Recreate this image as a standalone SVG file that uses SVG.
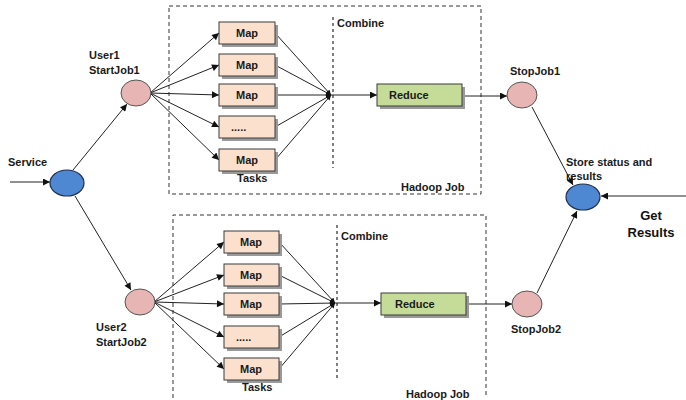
<svg xmlns="http://www.w3.org/2000/svg" width="686" height="400" viewBox="0 0 686 400">
<style>
.lbl{font-family:"Liberation Sans",Arial,sans-serif;font-size:11px;font-weight:bold;fill:#1a1a1a}
.big{font-family:"Liberation Sans",Arial,sans-serif;font-size:13px;font-weight:bold;fill:#111}
.map{fill:#fbe1cd;stroke:#3a3a3a;stroke-width:1}
.red{fill:#c4dc98;stroke:#3a3a3a;stroke-width:1}
.shadow{fill:#9a9a9a}
.pink{fill:#e8b5b5;stroke:#555;stroke-width:1}
.blue{fill:#4f88d2;stroke:#1f2f4f;stroke-width:1.2}
.box{fill:none;stroke:#333;stroke-width:1;stroke-dasharray:4,3}
.comb{fill:none;stroke:#555;stroke-width:1.5;stroke-dasharray:3,3}
.c{stroke:#222;stroke-width:1;fill:none}
.ca{stroke:#222;stroke-width:1;fill:none;marker-end:url(#ah)}
.cs{stroke:#222;stroke-width:1;fill:none;marker-end:url(#as)}
</style>
<defs>
<marker id="ah" viewBox="0 0 10 10" refX="10" refY="5" markerWidth="9" markerHeight="7" markerUnits="userSpaceOnUse" orient="auto"><path d="M0,0L10,5L0,10z" fill="#111"/></marker>
<marker id="as" viewBox="0 0 10 10" refX="10" refY="5" markerWidth="6" markerHeight="5" markerUnits="userSpaceOnUse" orient="auto"><path d="M0,0L10,5L0,10z" fill="#111"/></marker>
</defs>
<rect width="686" height="400" fill="#fff"/>

<g id="job1">
<rect class="box" x="169" y="6" width="312" height="188"/>
<line class="comb" x1="333" y1="17" x2="333" y2="168"/>
<text class="lbl" x="337" y="27">Combine</text>
<text class="lbl" x="237" y="182">Tasks</text>
<text class="lbl" x="401" y="191">Hadoop Job</text>
</g>
<g id="job2">
<path class="box" d="M173,398 V215 H486 V398"/>
<line class="comb" x1="337" y1="225" x2="337" y2="378"/>
<text class="lbl" x="341" y="240">Combine</text>
<text class="lbl" x="242" y="391">Tasks</text>
<text class="lbl" x="406" y="398">Hadoop Job</text>
</g>

<g id="connectors">
<line class="ca" x1="10" y1="182" x2="50" y2="182"/>
<line class="ca" x1="73" y1="170" x2="127" y2="104"/>
<line class="ca" x1="75" y1="196" x2="131" y2="290"/>
<line class="ca" x1="150" y1="93" x2="219" y2="33"/>
<line class="ca" x1="150" y1="93" x2="219" y2="65"/>
<line class="ca" x1="150" y1="93" x2="219" y2="95"/>
<line class="ca" x1="150" y1="93" x2="219" y2="127"/>
<line class="ca" x1="150" y1="93" x2="219" y2="160"/>
<line class="cs" x1="275" y1="33" x2="331" y2="95"/>
<line class="cs" x1="275" y1="65" x2="331" y2="95"/>
<line class="cs" x1="275" y1="95" x2="331" y2="95"/>
<line class="cs" x1="275" y1="127" x2="331" y2="95"/>
<line class="cs" x1="275" y1="160" x2="331" y2="95"/>
<line class="ca" x1="331" y1="95" x2="377" y2="95"/>
<line class="ca" x1="462" y1="96" x2="507" y2="96"/>
<line class="ca" x1="154" y1="302" x2="224" y2="242"/>
<line class="ca" x1="154" y1="302" x2="224" y2="275"/>
<line class="ca" x1="154" y1="302" x2="224" y2="304"/>
<line class="ca" x1="154" y1="302" x2="224" y2="337"/>
<line class="ca" x1="154" y1="302" x2="224" y2="369"/>
<line class="cs" x1="279" y1="242" x2="335" y2="303"/>
<line class="cs" x1="279" y1="275" x2="335" y2="303"/>
<line class="cs" x1="279" y1="304" x2="335" y2="303"/>
<line class="cs" x1="279" y1="337" x2="335" y2="303"/>
<line class="cs" x1="279" y1="369" x2="335" y2="303"/>
<line class="ca" x1="335" y1="303" x2="381" y2="303"/>
<line class="ca" x1="466" y1="304" x2="512" y2="304"/>
<line class="ca" x1="532" y1="107" x2="573" y2="185"/>
<line class="ca" x1="537" y1="293" x2="577" y2="211"/>
<line class="ca" x1="686" y1="196" x2="601" y2="196"/>
</g>

<g id="service"><ellipse class="blue" cx="67" cy="183" rx="17" ry="13"/><text class="lbl" x="8" y="166">Service</text></g>
<g id="user1"><ellipse class="pink" cx="136" cy="93" rx="15" ry="13"/><text class="lbl" x="89" y="59">User1</text><text class="lbl" x="89" y="74">StartJob1</text></g>
<g id="user2"><ellipse class="pink" cx="140" cy="302" rx="15" ry="13"/><text class="lbl" x="96" y="331">User2</text><text class="lbl" x="96" y="346">StartJob2</text></g>
<g id="stopjob1"><ellipse class="pink" cx="522" cy="95" rx="15" ry="13"/><text class="lbl" x="510" y="75">StopJob1</text></g>
<g id="stopjob2"><ellipse class="pink" cx="527" cy="304" rx="15" ry="13"/><text class="lbl" x="511" y="333">StopJob2</text></g>
<g id="store"><ellipse class="blue" cx="583" cy="197" rx="17" ry="13"/><text class="lbl" x="566" y="166">Store status and</text><text class="lbl" x="566" y="180">results</text></g>
<g id="getresults"><text class="big" x="651" y="220" text-anchor="middle">Get</text><text class="big" x="651" y="237" text-anchor="middle">Results</text></g>

<g id="map1a"><rect class="shadow" x="222" y="25" width="56" height="22"/><rect class="map" x="219" y="22" width="56" height="22"/><text class="lbl" x="247" y="37" text-anchor="middle">Map</text></g>
<g id="map1b"><rect class="shadow" x="222" y="57" width="56" height="22"/><rect class="map" x="219" y="54" width="56" height="22"/><text class="lbl" x="247" y="69" text-anchor="middle">Map</text></g>
<g id="map1c"><rect class="shadow" x="222" y="87" width="56" height="22"/><rect class="map" x="219" y="84" width="56" height="22"/><text class="lbl" x="247" y="99" text-anchor="middle">Map</text></g>
<g id="map1d"><rect class="shadow" x="222" y="119" width="56" height="22"/><rect class="map" x="219" y="116" width="56" height="22"/><text class="lbl" x="231" y="131">.....</text></g>
<g id="map1e"><rect class="shadow" x="222" y="152" width="56" height="22"/><rect class="map" x="219" y="149" width="56" height="22"/><text class="lbl" x="247" y="164" text-anchor="middle">Map</text></g>
<g id="reduce1"><rect class="shadow" x="380" y="87" width="85" height="22"/><rect class="red" x="377" y="84" width="85" height="22"/><text class="lbl" x="389" y="99">Reduce</text></g>

<g id="map2a"><rect class="shadow" x="227" y="234" width="55" height="22"/><rect class="map" x="224" y="231" width="55" height="22"/><text class="lbl" x="251" y="246" text-anchor="middle">Map</text></g>
<g id="map2b"><rect class="shadow" x="227" y="267" width="55" height="22"/><rect class="map" x="224" y="264" width="55" height="22"/><text class="lbl" x="251" y="279" text-anchor="middle">Map</text></g>
<g id="map2c"><rect class="shadow" x="227" y="296" width="55" height="22"/><rect class="map" x="224" y="293" width="55" height="22"/><text class="lbl" x="251" y="308" text-anchor="middle">Map</text></g>
<g id="map2d"><rect class="shadow" x="227" y="329" width="55" height="22"/><rect class="map" x="224" y="326" width="55" height="22"/><text class="lbl" x="236" y="341">.....</text></g>
<g id="map2e"><rect class="shadow" x="227" y="361" width="55" height="22"/><rect class="map" x="224" y="358" width="55" height="22"/><text class="lbl" x="251" y="373" text-anchor="middle">Map</text></g>
<g id="reduce2"><rect class="shadow" x="384" y="296" width="85" height="22"/><rect class="red" x="381" y="293" width="85" height="22"/><text class="lbl" x="395" y="308">Reduce</text></g>
</svg>
